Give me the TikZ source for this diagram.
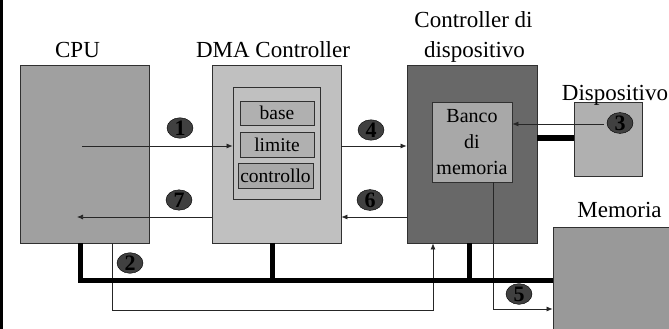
\documentclass[tikz,border=0pt]{standalone}
\usepackage{fontspec}
\setmainfont{Liberation Serif}
\usetikzlibrary{shapes.geometric,arrows.meta}

\definecolor{cpugray}{HTML}{A0A0A0}
\definecolor{dmagray}{HTML}{C0C0C0}
\definecolor{reggray}{HTML}{B0B0B0}
\definecolor{ctlgray}{HTML}{A8A8A8}
\definecolor{devcgray}{HTML}{686868}
\definecolor{bankgray}{HTML}{A8A8A8}
\definecolor{devgray}{HTML}{B0B0B0}
\definecolor{memgray}{HTML}{999999}
\definecolor{stepgray}{HTML}{404040}
\definecolor{edgegray}{HTML}{303030}

\tikzset{
  unit/.style={draw=edgegray, line width=0.8pt, inner sep=0pt, rectangle},
  reg/.style={draw=edgegray, line width=0.8pt, inner sep=0pt, rectangle,
    font=\fontsize{19.5}{22}\selectfont},
  title/.style={anchor=base, inner sep=0pt, font=\fontsize{23}{26}\selectfont},
  stepmark/.style={ellipse, draw=black, fill=stepgray, inner sep=0pt,
    minimum width=26pt, minimum height=17pt,
    font=\fontsize{22}{22}\selectfont\bfseries},
  sig/.style={draw=black!85, line width=0.7pt},
  sigarrow/.style={sig, -{Latex[length=6pt,width=5pt]}},
  bus/.style={draw=black, line width=5pt},
}

\begin{document}
\begin{tikzpicture}[x=1pt, y=-1pt]
\useasboundingbox (0,0) rectangle (669,329);
\clip (0,0) rectangle (669,329);

% left frame edge
\draw[line width=3pt] (1.5,0) -- (1.5,329);

% units
\node[unit, fill=cpugray, minimum width=129pt, minimum height=178pt] (cpu) at (84.5,154) {};
\node[unit, fill=dmagray, minimum width=129pt, minimum height=178pt] (dma) at (276.5,154) {};
\node[unit, fill=dmagray, minimum width=87pt, minimum height=112pt] (regs) at (276.5,143) {};
\node[reg, fill=reggray, minimum width=74pt, minimum height=24pt] (base) at (277,113) {base};
\node[reg, fill=reggray, minimum width=74pt, minimum height=25pt] (lim) at (277,144.5) {limite};
\node[reg, fill=ctlgray, minimum width=75pt, minimum height=25pt] (ctl) at (275.5,175.5) {controllo};
\node[unit, fill=devcgray, minimum width=130pt, minimum height=178pt] (devc) at (472,154) {};
\node[reg, fill=bankgray, minimum width=80pt, minimum height=80pt, align=center,
  font=\fontsize{20}{26}\selectfont] (bank) at (472,142) {Banco\\di\\memoria};
\node[unit, fill=devgray, minimum width=68pt, minimum height=74pt] (dev) at (608,139) {};
\node[unit, fill=memgray, minimum width=147pt, minimum height=133pt] (mem) at (626.5,293.5) {};

% titles
\node[title] (tcpu) at (77.5,58) {CPU};
\node[title] (tdma) at (273,58) {DMA Controller};
\node[title] (tdc1) at (473.5,28) {Controller di};
\node[title] (tdc2) at (474.5,58) {dispositivo};
\node[title] (tdev) at (615,100) {Dispositivo};
\node[title] (tmem) at (619.5,217) {Memoria};

% signal path coordinates
\coordinate (c1) at (82,146);
\coordinate (c7) at (77,217);
\coordinate (c4) at (341,146);
\coordinate (c6) at (407,217);
\coordinate (c3) at (604,124);
\coordinate (c2a) at (112,243);
\coordinate (c2b) at (112,310);
\coordinate (c2c) at (433,310);
\coordinate (c5a) at (493,182);
\coordinate (c5b) at (493,309);

% signals
\draw[sigarrow] (c1) -- (c1 -| regs.west);
\draw[sigarrow] (c7 -| dma.west) -- (c7);
\draw[sigarrow] (c4 -| dma.east) -- (c4 -| devc.west);
\draw[sigarrow] (c6 -| devc.west) -- (c6 -| dma.east);
\draw[sigarrow] (c3) -- (c3 -| bank.east);
\draw[sigarrow] (c2a) -- (c2b) -- (c2c) -- (c2c |- devc.south);
\draw[sigarrow] (c5a) -- (c5b) -- (c5b -| mem.west);

% system bus
\coordinate (b0) at (80,280);
\draw[bus] (b0 |- cpu.south) -- (b0) -- (b0 -| mem.west);
\coordinate (bd) at (272,280);
\draw[bus] (bd) -- (bd |- dma.south);
\coordinate (bc) at (469,280);
\draw[bus] (bc) -- (bc |- devc.south);
\coordinate (bl) at (537,138);
\draw[draw=black, line width=6pt] (bl) -- (bl -| dev.west);

% step markers
\node[stepmark] (s1) at (180,128) {1};
\node[stepmark] (s2) at (130,263) {2};
\node[stepmark] (s3) at (620,123) {3};
\node[stepmark] (s4) at (371,130) {4};
\node[stepmark] (s5) at (519,294) {5};
\node[stepmark] (s6) at (370,200) {6};
\node[stepmark] (s7) at (179,200) {7};
\end{tikzpicture}
\end{document}
